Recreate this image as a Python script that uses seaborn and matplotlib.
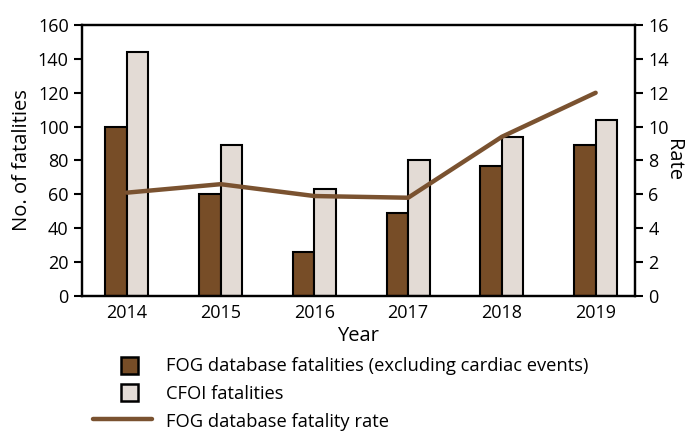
import pandas as pd
import numpy as np
import matplotlib.pyplot as plt
import seaborn as sns
from matplotlib.patches import Patch, Rectangle
from matplotlib.lines import Line2D
from matplotlib.legend_handler import HandlerPatch

years = ["2014", "2015", "2016", "2017", "2018", "2019"]
fog_fatalities = [100, 60, 26, 49, 77, 89]
cfoi_fatalities = [144, 89, 63, 80, 94, 104]
fog_rate = [6.1, 6.6, 5.9, 5.8, 9.4, 12.0]

fog_label = "FOG database fatalities (excluding cardiac events)"
cfoi_label = "CFOI fatalities"
rate_label = "FOG database fatality rate"

dark_brown = "#774d27"
light_grey = "#e3dbd5"
line_brown = "#7a5230"

sns.set_style("white")
plt.rcParams["font.family"] = ["Open Sans", "DejaVu Sans"]
plt.rcParams["text.color"] = "black"
plt.rcParams["axes.labelcolor"] = "black"
plt.rcParams["xtick.color"] = "black"
plt.rcParams["ytick.color"] = "black"

df = pd.DataFrame({
    "Year": years * 2,
    "Fatalities": fog_fatalities + cfoi_fatalities,
    "Series": [fog_label] * len(years) + [cfoi_label] * len(years),
})
rate_df = pd.DataFrame({"Year": years, "Rate": fog_rate})

fig = plt.figure(figsize=(6.94, 4.32), dpi=100)
ax = fig.add_axes([0.118, 0.315, 0.797, 0.627])

sns.barplot(data=df, x="Year", y="Fatalities", hue="Series",
            palette=[dark_brown, light_grey], width=0.46, dodge=True,
            edgecolor="black", linewidth=1.5, saturation=1, ax=ax, legend=False)

ax2 = ax.twinx()
sns.lineplot(data=rate_df, x="Year", y="Rate", color=line_brown,
             linewidth=3.2, ax=ax2, legend=False)

ax.set_xlim(-0.48, 5.42)
ax.set_ylim(0, 160)
ax.set_yticks(np.arange(0, 161, 20))
ax2.set_ylim(0, 16)
ax2.set_yticks(np.arange(0, 17, 2))

ax.set_xlabel("Year", fontsize=14.5, labelpad=3)
ax.set_ylabel("No. of fatalities", fontsize=14.5, labelpad=4)
ax2.set_ylabel("Rate", fontsize=14.5, rotation=270, labelpad=10, va="top")

for a in (ax, ax2):
    for s in a.spines.values():
        s.set_visible(True)
        s.set_color("black")
        s.set_linewidth(1.6)
ax.tick_params(axis="y", direction="out", length=6, width=1.5, labelsize=13, left=True)
ax.tick_params(axis="x", length=0, labelsize=13, pad=6)
ax2.tick_params(axis="y", direction="out", length=6, width=1.5, labelsize=13, right=True)


class SquareHandler(HandlerPatch):
    # square box drawn near the right end of the handle area
    def create_artists(self, legend, orig_handle, xdescent, ydescent,
                       width, height, fontsize, trans):
        side = height * 1.05
        p = Rectangle((width - side - xdescent - 10, -ydescent + (height - side) / 2),
                      side, side, facecolor=orig_handle.get_facecolor(),
                      edgecolor="black", linewidth=1.8, transform=trans)
        return [p]


handles = [
    Patch(facecolor=dark_brown, edgecolor="black"),
    Patch(facecolor=light_grey, edgecolor="black"),
    Line2D([0], [0], color=line_brown, linewidth=3.2),
]
fig.legend(handles, [fog_label, cfoi_label, rate_label], loc="upper left",
           bbox_to_anchor=(0.121, 0.195), frameon=False, fontsize=13.2,
           handlelength=3.2, handleheight=1.0, labelspacing=0.5,
           handletextpad=0.8, borderpad=0,
           handler_map={Patch: SquareHandler()})

fig.savefig("out.png", dpi=100)
plt.close(fig)
